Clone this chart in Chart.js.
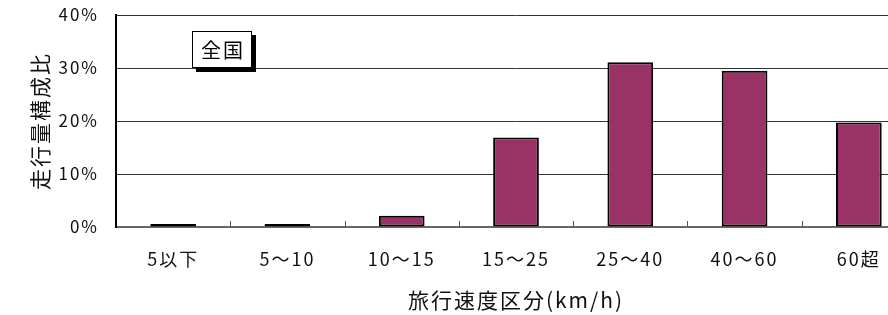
<!DOCTYPE html>
<html lang="ja">
<head>
<meta charset="utf-8">
<script src="https://cdn.jsdelivr.net/npm/chart.js@4"></script>
<style>
  html, body { margin: 0; padding: 0; background: #fff; overflow: hidden; }
  #wrap { width: 920px; height: 315px; }
</style>
</head>
<body>
<div id="wrap"><canvas id="speedChart" width="920" height="315"></canvas></div>
<script>
const categories = ['5以下', '5〜10', '10〜15', '15〜25', '25〜40', '40〜60', '60超'];
const shares = [0.1, 0.3, 2.1, 16.9, 31.1, 29.5, 19.7];
const yTicks = [0, 10, 20, 30, 40];
const seriesLabel = '全国';
const xTitle = '旅行速度区分(km/h)';
const yTitle = '走行量構成比';

const FONT = '"Noto Sans CJK JP", sans-serif';

// the source text is widely spaced, so space every label a little
const spacing = {
  id: 'spacing',
  beforeLayout(chart) { chart.ctx.letterSpacing = '2px'; },
  beforeDraw(chart) { chart.ctx.letterSpacing = '2px'; }
};

// short upward marks on the base line between categories
const boundaryTicks = {
  id: 'boundaryTicks',
  afterDatasetsDraw(chart) {
    const { ctx, chartArea } = chart;
    const x = chart.scales.x;
    const half = (x.getPixelForTick(1) - x.getPixelForTick(0)) / 2;
    ctx.save();
    ctx.strokeStyle = '#555';
    ctx.lineWidth = 1;
    x.ticks.forEach((t, i) => {
      const px = Math.round(x.getPixelForTick(i) + half) + 0.5;
      ctx.beginPath();
      ctx.moveTo(px, chartArea.bottom);
      ctx.lineTo(px, chartArea.bottom - 6);
      ctx.stroke();
    });
    ctx.restore();
  }
};

// boxed series name with a drop shadow
const seriesBox = {
  id: 'seriesBox',
  afterDraw(chart) {
    const { ctx, chartArea } = chart;
    const x = chartArea.left + 76, y = chartArea.top + 16, w = 60, h = 37;
    ctx.save();
    ctx.fillStyle = '#000';
    ctx.fillRect(x + 4, y + 4, w, h);
    ctx.fillStyle = '#fff';
    ctx.fillRect(x, y, w, h);
    ctx.strokeStyle = '#000';
    ctx.lineWidth = 1;
    ctx.strokeRect(x + 0.5, y + 0.5, w - 1, h - 1);
    ctx.font = '20px ' + FONT;
    ctx.fillStyle = '#000';
    ctx.textAlign = 'center';
    ctx.textBaseline = 'middle';
    ctx.fillText(chart.data.datasets[0].label, x + w / 2 + 1, y + h / 2 + 1);
    ctx.restore();
  }
};

new Chart(document.getElementById('speedChart'), {
  type: 'bar',
  data: {
    labels: categories,
    datasets: [{
      label: seriesLabel,
      data: shares,
      backgroundColor: '#993366',
      borderColor: '#000',
      borderWidth: 2,
      borderSkipped: false,
      minBarLength: 3,
      categoryPercentage: 0.4,
      barPercentage: 1.0
    }]
  },
  options: {
    responsive: false,
    animation: false,
    layout: { padding: { top: 15, left: 0, right: 4, bottom: 0 } },
    plugins: {
      legend: { display: false },
      tooltip: { enabled: false }
    },
    scales: {
      x: {
        afterFit(scale) { scale.height = 88; },
        grid: { display: false, drawTicks: false },
        border: { display: true, color: '#666', width: 2 },
        ticks: {
          color: '#111',
          font: { family: FONT, size: 18 },
          padding: 21,
          maxRotation: 0,
          autoSkip: false
        },
        title: {
          display: true,
          text: xTitle,
          color: '#111',
          font: { family: FONT, size: 21 },
          padding: { top: 0, bottom: 2 }
        }
      },
      y: {
        min: yTicks[0],
        max: yTicks[yTicks.length - 1],
        afterFit(scale) {
          scale.width = 116;
          scale.paddingTop = 0;
          scale.paddingBottom = 0;
        },
        afterBuildTicks(scale) { scale.ticks = yTicks.map(v => ({ value: v })); },
        grid: { color: '#333', lineWidth: 1, drawTicks: false },
        border: { display: true, color: '#000', width: 2 },
        ticks: {
          color: '#111',
          font: { family: FONT, size: 17 },
          padding: 17,
          callback: v => v + '%'
        },
        title: {
          display: true,
          text: yTitle,
          color: '#111',
          font: { family: FONT, size: 21 },
          padding: { top: 27, bottom: 0 }
        }
      }
    }
  },
  plugins: [spacing, boundaryTicks, seriesBox]
});
</script>
</body>
</html>
